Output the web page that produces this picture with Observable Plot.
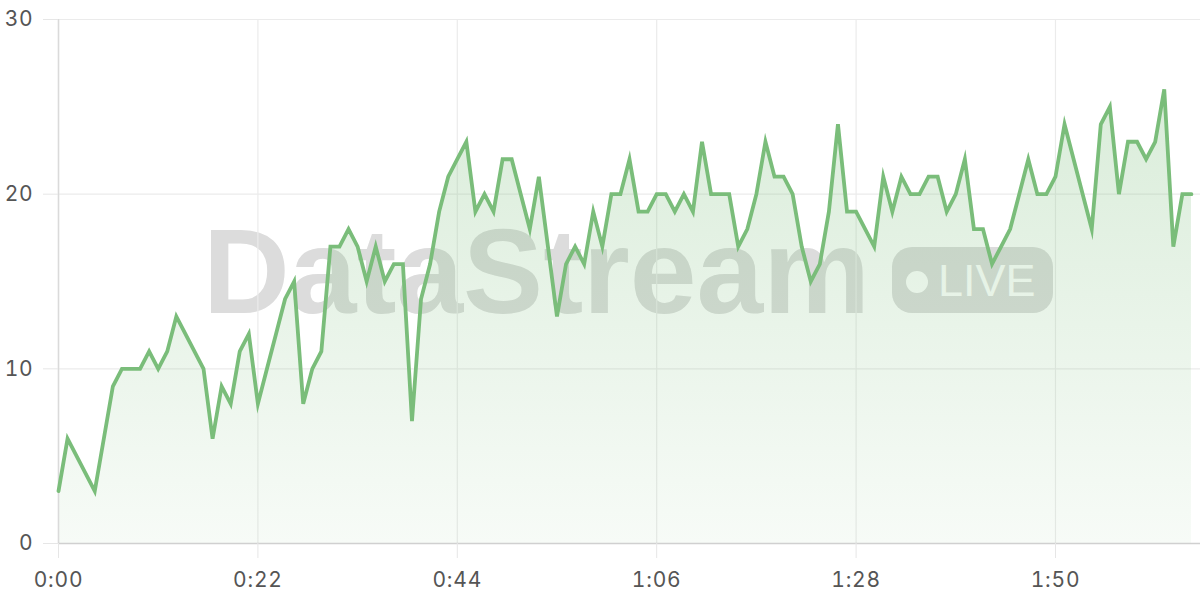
<!DOCTYPE html>
<html>
<head>
<meta charset="utf-8">
<script src="https://cdn.jsdelivr.net/npm/d3@7"></script>
<script src="https://cdn.jsdelivr.net/npm/@observablehq/plot@0.6"></script>
<style>
  body { margin: 0; background: #fff; }
  #chart { width: 1200px; height: 600px; }
  #chart svg g[aria-label$="tick label"] text { letter-spacing: 0.8px; }
</style>
</head>
<body>
<div id="chart"></div>
<script>
// Values sampled once per second (index = elapsed seconds)
const values = [
  3, 6, 5, 4, 3, 6, 9, 10, 10, 10,
  11, 10, 11, 13, 12, 11, 10, 6, 9, 8,
  11, 12, 8, 10, 12, 14, 15, 8, 10, 11,
  17, 17, 18, 17, 15, 17, 15, 16, 16, 7,
  14, 16, 19, 21, 22, 23, 19, 20, 19, 22,
  22, 20, 18, 21, 17, 13, 16, 17, 16, 19,
  17, 20, 20, 22, 19, 19, 20, 20, 19, 20,
  19, 23, 20, 20, 20, 17, 18, 20, 23, 21,
  21, 20, 17, 15, 16, 19, 24, 19, 19, 18,
  17, 21, 19, 21, 20, 20, 21, 21, 19, 20,
  22, 18, 18, 16, 17, 18, 20, 22, 20, 20,
  21, 24, 22, 20, 18, 24, 25, 20, 23, 23,
  22, 23, 26, 17, 20, 20
];
const seconds = values.map((_, i) => i);
const xDomain = [0, 126];
const yDomain = [0, 30];
const xTicks = [0, 22, 44, 66, 88, 110];
const yTicks = [0, 10, 20, 30];
const watermarkText = "DataStream";
const badgeText = "LIVE";

const data = seconds.map((t, i) => ({t, v: values[i]}));
const fmt = s => `${Math.floor(s / 60)}:${String(s % 60).padStart(2, "0")}`;

const lineColor = "#7abd7a";

function gradientDefs() {
  const defs = d3.create("svg:defs");
  const g = defs.append("linearGradient")
    .attr("id", "areaGrad")
    .attr("x1", 0).attr("y1", 0).attr("x2", 0).attr("y2", 1);
  g.append("stop").attr("offset", "0%").attr("stop-color", lineColor).attr("stop-opacity", 0.28);
  g.append("stop").attr("offset", "100%").attr("stop-color", lineColor).attr("stop-opacity", 0.06);
  return defs.node();
}

function watermark(index, scales, vals, dims) {
  const W = dims && dims.width || 1200, H = dims && dims.height || 600;
  const ml = dims ? dims.marginLeft : 58, mr = dims ? dims.marginRight : 0;
  const mt = dims ? dims.marginTop : 19, mb = dims ? dims.marginBottom : 57;
  const cx = (ml + W - mr) / 2, cy = (mt + H - mb) / 2;
  const font = "'Liberation Sans', Arial, Helvetica, sans-serif";
  const g = d3.create("svg:g").attr("aria-label", "watermark");
  g.append("text")
    .attr("x", cx + 241).attr("y", cy + 32)
    .attr("text-anchor", "end")
    .attr("font-family", font).attr("font-weight", 700).attr("font-size", 120)
    .attr("fill", "#dcdcdc")
    .text(watermarkText);
  g.append("rect")
    .attr("x", cx + 263).attr("y", cy - 34)
    .attr("width", 161).attr("height", 66).attr("rx", 20)
    .attr("fill", "#dcdcdc");
  g.append("circle")
    .attr("cx", cx + 288).attr("cy", cy + 1).attr("r", 11)
    .attr("fill", "#ffffff");
  g.append("text")
    .attr("x", cx + 309).attr("y", cy + 15)
    .attr("text-anchor", "start")
    .attr("font-family", font).attr("font-size", 45)
    .attr("fill", "#ffffff")
    .text(badgeText);
  return g.node();
}

const chart = Plot.plot({
  width: 1200,
  height: 600,
  marginLeft: 58,
  marginRight: 0,
  marginTop: 19,
  marginBottom: 57,
  style: {background: "transparent", fontFamily: "Inter, 'Noto Sans', sans-serif", fontSize: "20px", color: "#555"},
  x: {domain: xDomain},
  y: {domain: yDomain},
  marks: [
    gradientDefs,
    watermark,
    Plot.ruleY(yTicks, {stroke: "#ebebeb", strokeWidth: 1.2}),
    Plot.ruleX(xTicks, {stroke: "#ebebeb", strokeWidth: 1.2}),
    Plot.areaY(data, {x: "t", y: "v", fill: "url(#areaGrad)"}),
    Plot.ruleX([0], {stroke: "#dadada", strokeWidth: 1.5}),
    Plot.ruleY([0], {stroke: "#d0d0d0", strokeWidth: 1.5}),
    Plot.lineY(data, {x: "t", y: "v", stroke: lineColor, strokeWidth: 3.8, strokeLinejoin: "miter", strokeMiterlimit: 6}),
    Plot.axisX({ticks: xTicks, tickFormat: fmt, tickSize: 15, tickPadding: 14, stroke: "#e6e6e6", fill: "#555", fontSize: 21, label: null}),
    Plot.axisY({ticks: yTicks, tickSize: 15, tickPadding: 10, stroke: "#e6e6e6", fill: "#555", fontSize: 21, label: null})
  ]
});

document.getElementById("chart").appendChild(chart);
</script>
</body>
</html>
